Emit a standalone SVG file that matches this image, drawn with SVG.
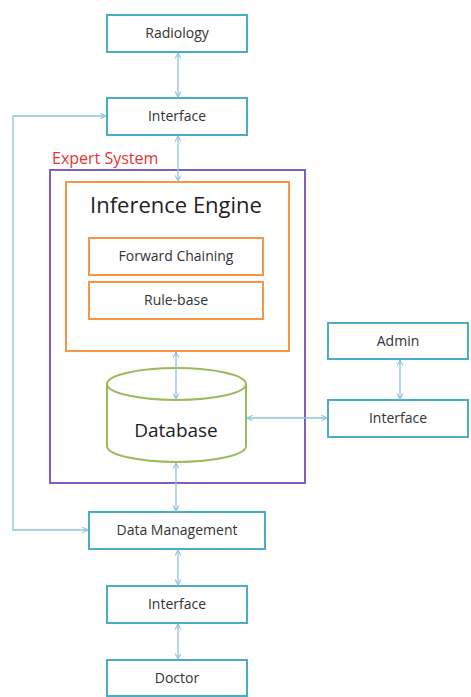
<svg xmlns="http://www.w3.org/2000/svg" width="471" height="697" viewBox="0 0 471 697">
<style>
.box{fill:#fff;stroke:#4bacc6;stroke-width:2}
.or{fill:#fff;stroke:#f79646;stroke-width:2}
.t{font-family:"Open Sans","DejaVu Sans",sans-serif;font-size:14px;fill:#333;text-anchor:middle}
.big{font-family:"Open Sans","DejaVu Sans",sans-serif;font-size:19px;fill:#222;text-anchor:middle}
.c{fill:none;stroke:#8cc4dc;stroke-width:1.3}
</style>
<defs>
<marker id="a" viewBox="0 0 10 10" refX="9" refY="5" markerWidth="7" markerHeight="7" orient="auto-start-reverse" markerUnits="userSpaceOnUse">
<path d="M1,1 L9,5 L1,9" fill="none" stroke="#8cc4dc" stroke-width="1.5"/>
</marker>
</defs>
<rect width="471" height="697" fill="#fff"/>
<g id="expert-system">
<rect x="50" y="170" width="255" height="313" fill="none" stroke="#7e5fbf" stroke-width="2"/>
<text x="52" y="164" font-family="'Open Sans','DejaVu Sans',sans-serif" font-size="16" fill="#e53434">Expert System</text>
</g>
<g id="inference-engine">
<rect class="or" x="66" y="182" width="223" height="169"/>
<text class="big" x="176" y="213" font-size="22" style="font-size:22px">Inference Engine</text>
</g>
<g id="forward-chaining">
<rect class="or" x="89" y="238" width="174" height="37"/>
<text class="t" x="176" y="261">Forward Chaining</text>
</g>
<g id="rule-base">
<rect class="or" x="89" y="282" width="174" height="37"/>
<text class="t" x="176" y="305">Rule-base</text>
</g>
<g id="database">
<path d="M107,384 L107,446 A69.5,16 0 0 0 246,446 L246,384" fill="#fff" stroke="#9bbb59" stroke-width="2"/>
<ellipse cx="176.5" cy="384" rx="69.5" ry="16" fill="#fff" stroke="#9bbb59" stroke-width="2"/>
<text class="big" x="176" y="437">Database</text>
</g>
<g id="radiology">
<rect class="box" x="107" y="15" width="140" height="37"/>
<text class="t" x="177" y="38">Radiology</text>
</g>
<g id="interface-top">
<rect class="box" x="107" y="98" width="140" height="37"/>
<text class="t" x="177" y="121">Interface</text>
</g>
<g id="admin">
<rect class="box" x="328" y="323" width="140" height="36"/>
<text class="t" x="398" y="346">Admin</text>
</g>
<g id="interface-admin">
<rect class="box" x="328" y="400" width="140" height="37"/>
<text class="t" x="398" y="423">Interface</text>
</g>
<g id="data-management">
<rect class="box" x="89" y="512" width="176" height="37"/>
<text class="t" x="177" y="535">Data Management</text>
</g>
<g id="interface-bottom">
<rect class="box" x="107" y="586" width="140" height="37"/>
<text class="t" x="177" y="609">Interface</text>
</g>
<g id="doctor">
<rect class="box" x="107" y="660" width="140" height="36"/>
<text class="t" x="177" y="683">Doctor</text>
</g>
<g id="connectors">
<line class="c" x1="178" y1="53" x2="178" y2="97" marker-start="url(#a)" marker-end="url(#a)"/>
<line class="c" x1="178" y1="136" x2="178" y2="181" marker-start="url(#a)" marker-end="url(#a)"/>
<line class="c" x1="176" y1="352" x2="176" y2="399" marker-start="url(#a)" marker-end="url(#a)"/>
<line class="c" x1="247" y1="418" x2="327" y2="418" marker-start="url(#a)" marker-end="url(#a)"/>
<line class="c" x1="400" y1="360" x2="400" y2="399" marker-start="url(#a)" marker-end="url(#a)"/>
<line class="c" x1="176" y1="463" x2="176" y2="511" marker-start="url(#a)" marker-end="url(#a)"/>
<line class="c" x1="178" y1="550" x2="178" y2="585" marker-start="url(#a)" marker-end="url(#a)"/>
<line class="c" x1="178" y1="624" x2="178" y2="659" marker-start="url(#a)" marker-end="url(#a)"/>
<polyline class="c" points="106,116 13,116 13,530 88,530" marker-start="url(#a)" marker-end="url(#a)"/>
</g>
</svg>
